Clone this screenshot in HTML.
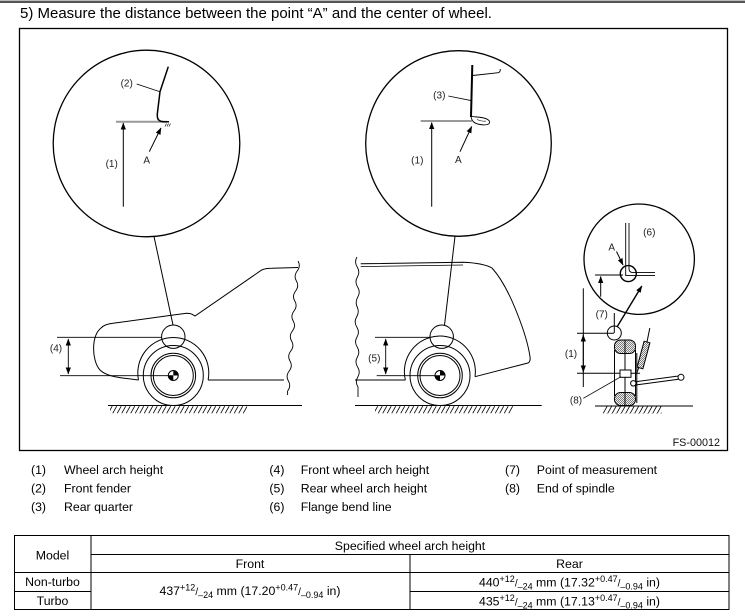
<!DOCTYPE html>
<html><head><meta charset="utf-8">
<style>
html,body{margin:0;padding:0;background:#fff;}
svg{display:block;font-family:"Liberation Sans",Arial,sans-serif;}
</style></head>
<body>
<svg width="745" height="616" viewBox="0 0 745 616" xmlns="http://www.w3.org/2000/svg">
<defs>
<marker id="ah" markerWidth="7" markerHeight="6" refX="6.5" refY="3" orient="auto" markerUnits="userSpaceOnUse"><path d="M0,0.4 L7,3 L0,5.6 z" fill="#000"/></marker>
<marker id="ahs" markerWidth="7" markerHeight="6" refX="6.5" refY="3" orient="auto-start-reverse" markerUnits="userSpaceOnUse"><path d="M0,0.4 L7,3 L0,5.6 z" fill="#000"/></marker>
<pattern id="gh" x="0" y="406" width="4.5" height="7.5" patternUnits="userSpaceOnUse"><path d="M0.2,7.3 L4.2,0.2" stroke="#000" stroke-width="0.8"/></pattern>
<pattern id="th" x="0" y="0" width="2" height="2" patternUnits="userSpaceOnUse"><path d="M-0.5,-0.5 L2.5,2.5" stroke="#333" stroke-width="0.6"/></pattern>
</defs>

<!-- top bar -->
<rect x="0" y="0" width="745" height="1" fill="#bbb"/>
<rect x="0" y="1" width="745" height="2" fill="#555"/>

<text x="20" y="18" font-size="15" fill="#000">5) Measure the distance between the point “A” and the center of wheel.</text>

<!-- diagram box -->
<rect x="19.5" y="28.5" width="708" height="422" fill="none" stroke="#000" stroke-width="1.3"/>

<g fill="none" stroke="#000" stroke-width="1">
<!-- big circles -->
<circle cx="146.5" cy="143.5" r="93.3" stroke-width="1.3"/>
<circle cx="458.5" cy="143.5" r="92.8" stroke-width="1.3"/>
<!-- connectors -->
<line x1="154" y1="236.5" x2="173" y2="325"/>
<line x1="455" y1="236.3" x2="444.5" y2="325.2"/>

<!-- circle 1 internals -->
<line x1="116" y1="121.7" x2="167" y2="121.7" stroke="#999" stroke-width="2"/>
<path d="M168.3,66.7 L160,91.7 L157.3,114 C157,119.5 159,121.7 163.5,121.7 L169,121.7" stroke-width="1.5"/>
<path d="M165,126.5 l1.5,-3 M167,126.5 l1.5,-3 M169,126.5 l1.5,-3" stroke-width="0.6"/>
<line x1="136.7" y1="84" x2="160" y2="91.7" stroke-width="0.8"/>
<line x1="123.3" y1="206.7" x2="123.3" y2="123" marker-end="url(#ah)"/>
<line x1="149.3" y1="151.7" x2="161" y2="128" marker-end="url(#ah)"/>

<!-- circle 2 internals -->
<line x1="420.7" y1="121" x2="472" y2="121" stroke="#999" stroke-width="2"/>
<path d="M472.3,65 L471,117" stroke-width="2"/>
<path d="M471,116 C471.5,121 474,123.5 480,124.5 C486,125.5 490.5,124.5 489.5,121.5 C488.5,118.5 483,117.5 477,117 C474,116.8 472,116.5 471,116" stroke-width="0.9"/>
<path d="M477,119.5 C480,121 484,121.5 486,121" stroke-width="0.6"/>
<path d="M472.8,75.5 L498.3,72.7 Q500.5,72 500.3,69" stroke-width="0.9"/>
<line x1="448.3" y1="96" x2="471.7" y2="100.7" stroke-width="0.8"/>
<line x1="431.7" y1="206.7" x2="431.7" y2="122.5" marker-end="url(#ah)"/>
<line x1="460" y1="151.7" x2="471.7" y2="126.5" marker-end="url(#ah)"/>

<!-- FRONT CAR -->
<path d="M138.5,380 L126.7,378.5 C118,377.5 106,376 100,370 C95.5,365 93.5,356 93.6,348 C93.8,339 96,332 101,328 C104,325 108,323.8 113,323.3 L173.3,315 L186.7,313.3 Q190,313.3 192,314.2 L195,316 L261.7,270 Q266,268.3 271.7,268.3 L298,267.5"/>
<path d="M138.5,380 A35.5,35.5 0 1 1 208.1,380"/>
<line x1="208.1" y1="380" x2="284" y2="380"/>
<path d="M298,261 q3,5 -0.8,10 t-0.8,10 t-0.8,10 t-0.8,10 t-0.8,10 t-0.8,10 t-0.8,10 t-0.8,10 t-0.8,10 t-0.8,10 t-0.8,10 t-0.8,10 t-0.8,10 l0,4" stroke-width="0.9"/>
<circle cx="173.3" cy="336.7" r="11.7"/>
<circle cx="173.3" cy="375.5" r="30"/>
<circle cx="173.3" cy="375.5" r="22.3"/>
<circle cx="173.3" cy="375.5" r="20"/>
<circle cx="173.3" cy="375.5" r="5"/>
<!-- ground -->
<line x1="108" y1="405.5" x2="302" y2="405.5"/>
<!-- dim 4 -->
<line x1="57" y1="337.3" x2="161.7" y2="337.3" stroke-width="0.9"/>
<line x1="60" y1="375.7" x2="173" y2="375.7" stroke-width="0.9"/>
<line x1="68.3" y1="339" x2="68.3" y2="374" marker-start="url(#ahs)" marker-end="url(#ahs)" stroke-width="0.9"/>

<!-- REAR CAR -->
<path d="M357,257 q-3,5 0.2,10 t0.2,10 t0.2,10 t0.2,10 t-0.6,10 t-0.6,10 t0.2,10 t0.2,10 t0.2,10 t0.2,10 t0.2,10 t0.2,10 t0.2,10 l0,10" stroke-width="0.9"/>
<path d="M360.7,263.8 L463.3,262.2 C475,262.7 486,264.5 492,268 C501,278 510,295 517,313 C523,328 528,343 530,356.7 C530.5,360 530,362 528,363 L475,376.7"/>
<line x1="360.7" y1="266.6" x2="463" y2="265" stroke-width="0.8"/>
<path d="M405.4,380 A35.5,35.5 0 1 1 475,376.7"/>
<line x1="355" y1="380" x2="405.4" y2="380"/>
<circle cx="441.7" cy="336.7" r="11.7"/>
<circle cx="440" cy="375.5" r="30"/>
<circle cx="440" cy="375.5" r="22.3"/>
<circle cx="440" cy="375.5" r="20"/>
<circle cx="440" cy="375.5" r="5"/>
<line x1="355" y1="405.5" x2="541.7" y2="405.5"/>
<!-- dim 5 -->
<line x1="375" y1="337.3" x2="430" y2="337.3" stroke-width="0.9"/>
<line x1="376.7" y1="375.7" x2="440" y2="375.7" stroke-width="0.9"/>
<line x1="385.7" y1="339" x2="385.7" y2="374" marker-start="url(#ahs)" marker-end="url(#ahs)" stroke-width="0.9"/>

<!-- RIGHT SMALL DIAGRAM -->
<circle cx="639.2" cy="259.2" r="55.2" stroke-width="1.3"/>
<path d="M625.7,223 L625.7,275.6 L655,275.6" stroke-width="0.9"/>
<path d="M629,223 L629,268.5 Q629,272.6 633,272.6 L655,272.6" stroke-width="0.9"/>
<circle cx="628.3" cy="273.6" r="8" stroke-width="1.4"/>
<line x1="595" y1="275" x2="623" y2="275"/>
<line x1="616.5" y1="251.5" x2="623" y2="265" marker-end="url(#ah)"/>
<line x1="600.7" y1="296.7" x2="600.7" y2="276.5" marker-end="url(#ah)"/>
<line x1="614.3" y1="313" x2="614.3" y2="333"/>
<circle cx="614.3" cy="333" r="7"/>
<line x1="617" y1="327" x2="641.8" y2="286" stroke-width="1.4" marker-end="url(#ah)"/>
<line x1="583.3" y1="288.3" x2="583.3" y2="387"/>
<line x1="577" y1="333.3" x2="614" y2="333.3"/>
<line x1="577" y1="373.3" x2="640" y2="373.3"/>
<line x1="583.3" y1="335" x2="583.3" y2="372" marker-start="url(#ahs)" marker-end="url(#ahs)"/>
<!-- tire -->
<rect x="614.5" y="340" width="21" height="13.5" rx="6" fill="url(#th)"/>
<rect x="614.5" y="392.5" width="21" height="13" rx="6" fill="url(#th)"/>
<line x1="625" y1="340" x2="625" y2="405.5"/>
<line x1="614.5" y1="350" x2="614.5" y2="396"/>
<line x1="635.5" y1="350" x2="635.5" y2="396"/>
<rect x="620" y="370" width="11" height="7.3" fill="#fff"/>
<line x1="636.8" y1="353" x2="636.8" y2="403"/>
<line x1="636.8" y1="373" x2="639" y2="367"/>
<polygon points="642.9,368.8 637.1,367.2 644.1,341.2 649.9,342.8" fill="url(#th)"/>
<line x1="647" y1="342" x2="649.8" y2="328"/>
<line x1="635.5" y1="381.7" x2="678.5" y2="376"/>
<line x1="635.5" y1="385" x2="678.5" y2="379.3"/>
<circle cx="633.3" cy="383.3" r="2.7" fill="#fff"/>
<circle cx="681" cy="377.3" r="3" fill="#fff"/>
<line x1="583.3" y1="398.3" x2="621" y2="376.7" stroke-width="0.8"/>
<line x1="595" y1="406" x2="693" y2="406"/>
</g>

<!-- wheel center markers -->
<path d="M173.3,375.5 L173.3,370.5 A5,5 0 0 1 178.3,375.5 Z M173.3,375.5 L173.3,380.5 A5,5 0 0 1 168.3,375.5 Z" fill="#000"/>
<path d="M440,375.5 L440,370.5 A5,5 0 0 1 445,375.5 Z M440,375.5 L440,380.5 A5,5 0 0 1 435,375.5 Z" fill="#000"/>

<!-- ground hatching -->
<rect x="110" y="406" width="137" height="7.5" fill="url(#gh)"/>
<rect x="375" y="406" width="138" height="7.5" fill="url(#gh)"/>
<rect x="603" y="406.5" width="59" height="7.5" fill="url(#gh)"/>

<!-- diagram labels -->
<g font-size="10" fill="#222" text-anchor="middle">
<text x="126.7" y="86.3">(2)</text>
<text x="111.7" y="166.8">(1)</text>
<text x="146.7" y="163.5">A</text>
<text x="439.3" y="98.5">(3)</text>
<text x="417.3" y="163.5">(1)</text>
<text x="458.3" y="163">A</text>
<text x="56" y="351.7">(4)</text>
<text x="374.3" y="361.3">(5)</text>
<text x="649.3" y="235.3">(6)</text>
<text x="611.7" y="250.3">A</text>
<text x="601.7" y="317.6">(7)</text>
<text x="571" y="356.9">(1)</text>
<text x="576" y="403.6">(8)</text>
</g>
<text x="720" y="446" font-size="10.8" fill="#111" text-anchor="end">FS-00012</text>

<!-- legend -->
<g font-size="12.3" fill="#000">
<text x="31" y="474">(1)</text><text x="64" y="474">Wheel arch height</text>
<text x="31" y="492.5">(2)</text><text x="64" y="492.5">Front fender</text>
<text x="31" y="511">(3)</text><text x="64" y="511">Rear quarter</text>
<text x="269.4" y="474">(4)</text><text x="300.7" y="474">Front wheel arch height</text>
<text x="269.4" y="492.5">(5)</text><text x="300.7" y="492.5">Rear wheel arch height</text>
<text x="269.4" y="511">(6)</text><text x="300.7" y="511">Flange bend line</text>
<text x="505" y="474">(7)</text><text x="536.8" y="474">Point of measurement</text>
<text x="505" y="492.5">(8)</text><text x="536.8" y="492.5">End of spindle</text>
</g>

<!-- table -->
<g stroke="#000" stroke-width="1" fill="none">
<line x1="14" y1="535.5" x2="729.5" y2="535.5"/>
<line x1="91" y1="554.5" x2="729.5" y2="554.5"/>
<line x1="14" y1="572.5" x2="729.5" y2="572.5"/>
<line x1="14" y1="591.5" x2="91" y2="591.5"/>
<line x1="410" y1="591.5" x2="729.5" y2="591.5"/>
<line x1="14" y1="609.5" x2="729.5" y2="609.5"/>
<line x1="14.5" y1="535" x2="14.5" y2="610"/>
<line x1="91" y1="535" x2="91" y2="610"/>
<line x1="729" y1="535" x2="729" y2="610"/>
<line x1="410" y1="554.5" x2="410" y2="610"/>
</g>
<g font-size="12.3" fill="#000" text-anchor="middle">
<text x="52.5" y="559.5">Model</text>
<text x="410" y="549.8">Specified wheel arch height</text>
<text x="250" y="568">Front</text>
<text x="569.5" y="568">Rear</text>
<text x="52.5" y="586">Non-turbo</text>
<text x="52.5" y="605">Turbo</text>
<text x="250" y="595">437<tspan font-size="9" dy="-4.5">+12</tspan><tspan font-size="10" dy="4.5">/</tspan><tspan font-size="9" dy="3">–24</tspan><tspan dy="-3"> mm (17.20</tspan><tspan font-size="9" dy="-4.5">+0.47</tspan><tspan font-size="10" dy="4.5">/</tspan><tspan font-size="9" dy="3">–0.94</tspan><tspan dy="-3"> in)</tspan></text>
<text x="569.5" y="586.5">440<tspan font-size="9" dy="-4.5">+12</tspan><tspan font-size="10" dy="4.5">/</tspan><tspan font-size="9" dy="3">–24</tspan><tspan dy="-3"> mm (17.32</tspan><tspan font-size="9" dy="-4.5">+0.47</tspan><tspan font-size="10" dy="4.5">/</tspan><tspan font-size="9" dy="3">–0.94</tspan><tspan dy="-3"> in)</tspan></text>
<text x="569.5" y="605.5">435<tspan font-size="9" dy="-4.5">+12</tspan><tspan font-size="10" dy="4.5">/</tspan><tspan font-size="9" dy="3">–24</tspan><tspan dy="-3"> mm (17.13</tspan><tspan font-size="9" dy="-4.5">+0.47</tspan><tspan font-size="10" dy="4.5">/</tspan><tspan font-size="9" dy="3">–0.94</tspan><tspan dy="-3"> in)</tspan></text>
</g>
</svg>
</body></html>
